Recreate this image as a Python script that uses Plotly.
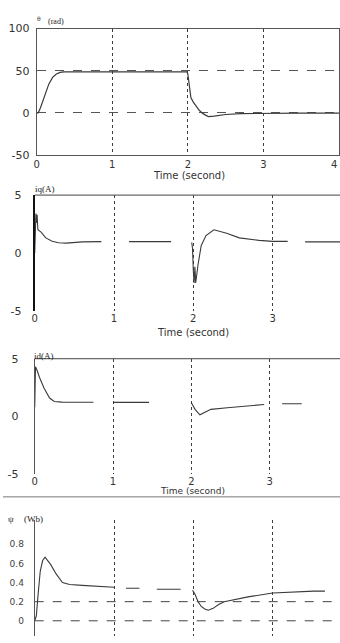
import plotly.graph_objects as go

# ---------------- data ----------------
x_ticks_top = [0, 1, 2, 3]
x_last_label = 4
x_ticks = [0, 1, 2, 3]

theta_t = [0, 0.02, 0.05, 0.08, 0.12, 0.16, 0.21, 0.26, 0.31, 0.36, 0.5, 1.0, 1.5, 1.99,
           2.0, 2.02, 2.04, 2.07, 2.1, 2.15, 2.2, 2.27, 2.35, 2.5, 2.7, 3.0, 3.5, 4.0]
theta = [0, 0, 6, 14, 24, 34, 42, 46, 48, 48.5, 48.5, 48.5, 48.5, 48.5,
         46, 28, 18, 13, 9, 3, -1, -4.5, -4, -2, -1, -0.5, -0.3, -0.3]
theta_yticks = [-50, 0, 50, 100]
theta_ytext = ['-50', '0', '50', '100']

iq_t = [0, 0.005, 0.01, 0.015, 0.02, 0.03, 0.04, 0.06, 0.08, 0.14, 0.22, 0.3, 0.4, 0.6, 0.84, None,
        1.19, 1.72, None,
        1.98, 1.99, 2.0, 2.01, 2.02, 2.03, 2.06, 2.1, 2.16, 2.26, 2.42, 2.58, 2.83, 3.0, 3.19, None,
        3.41, 3.85]
iq = [0, 3.0, 2.2, 3.4, 2.6, 3.3, 2.0, 1.9, 1.8, 1.3, 1.0, 0.88, 0.85, 0.95, 0.98, None,
      0.98, 0.98, None,
      0.9, 0.4, -1.5, -2.6, -1.2, -2.6, -1.0, 0.65, 1.5, 2.0, 1.7, 1.3, 1.08, 1.0, 1.0, None,
      0.95, 0.95]
iq_yticks = [-5, 0, 5]

id_t = [0, 0.01, 0.03, 0.06, 0.12, 0.19, 0.25, 0.35, 0.5, 0.75, None,
        1.0, 1.46, None,
        2.0, 2.05, 2.11, 2.18, 2.25, 2.46, 2.7, 2.93, None,
        3.16, 3.41]
id_a = [0.8, 4.3, 4.0, 3.4, 2.45, 1.6, 1.3, 1.25, 1.24, 1.24, None,
        1.22, 1.22, None,
        1.2, 0.6, 0.15, 0.4, 0.62, 0.76, 0.9, 1.04, None,
        1.1, 1.1]
id_yticks = [-5, 0, 5]

psi_t = [0, 0.02, 0.04, 0.07, 0.1, 0.13, 0.2, 0.27, 0.35, 0.44, 0.6, 0.85, 1.0, None,
         1.15, 1.32, None,
         1.54, 1.84, None,
         1.99, 2.02, 2.06, 2.1, 2.15, 2.19, 2.25, 2.32, 2.39, 2.5, 2.69, 3.0, 3.2, 3.52, 3.66]
psi = [0, 0.05, 0.25, 0.52, 0.63, 0.665, 0.59, 0.49, 0.40, 0.38, 0.37, 0.36, 0.35, None,
       0.34, 0.34, None,
       0.33, 0.33, None,
       0.32, 0.28, 0.2, 0.15, 0.12, 0.11, 0.13, 0.17, 0.2, 0.22, 0.25, 0.29, 0.30, 0.31, 0.31]
psi_yticks = [0, 0.2, 0.4, 0.6, 0.8]
psi_ytext = ['0', '0.2', '0.4', '0.6', '0.8']
psi_ref_levels = [0, 0.2]

# ---------------- layout helpers ----------------
W, H = 340, 643
def px(x):
    return x / W
def py(y):
    return 1 - y / H

LINE = '#3a3a3a'
GRID = '#3c3c3c'
FONT = dict(family='DejaVu Sans', size=11, color='#333333')
XFONT = dict(family='DejaVu Sans', size=10, color='#333333')
TFONT = dict(family='DejaVu Sans', size=10, color='#333333')
TFONT3 = dict(family='DejaVu Sans', size=9, color='#333333')

fig = go.Figure()
fig.add_trace(go.Scatter(x=theta_t, y=theta, mode='lines', xaxis='x', yaxis='y',
                         line=dict(color=LINE, width=1.2), showlegend=False))
fig.add_trace(go.Scatter(x=iq_t, y=iq, mode='lines', xaxis='x2', yaxis='y2',
                         line=dict(color=LINE, width=1.1), showlegend=False))
fig.add_trace(go.Scatter(x=id_t, y=id_a, mode='lines', xaxis='x3', yaxis='y3',
                         line=dict(color=LINE, width=1.1), showlegend=False))
fig.add_trace(go.Scatter(x=psi_t, y=psi, mode='lines', xaxis='x4', yaxis='y4',
                         line=dict(color=LINE, width=1.1), showlegend=False))

xgrid = dict(showgrid=True, gridcolor=GRID, griddash='dot', gridwidth=1,
             zeroline=False, ticks='', tickfont=XFONT)

fig.update_layout(
    width=W, height=H,
    margin=dict(l=0, r=0, t=0, b=0),
    paper_bgcolor='white', plot_bgcolor='white',
    font=FONT,
    xaxis=dict(domain=[px(34), px(339)], range=[0, 4], tickvals=x_ticks_top,
               showline=True, mirror=True, linecolor='#555', linewidth=1,
               anchor='y', ticklabelstandoff=0, **xgrid),
    yaxis=dict(domain=[py(152), py(23)], range=[-50, 100], tickvals=theta_yticks,
               ticktext=theta_ytext, showgrid=True, gridcolor='#555', griddash='dash',
               zeroline=False, showline=True, mirror=True, linecolor='#555',
               ticks='', tickfont=FONT, ticklabelstandoff=4, anchor='x'),
    xaxis2=dict(domain=[px(32), 1], range=[0, 308 / 80], tickvals=x_ticks,
                showline=False, anchor='y2', ticklabelstandoff=0, **xgrid),
    yaxis2=dict(domain=[py(311), py(193)], range=[-5, 5], tickvals=iq_yticks,
                ticktext=['-5', '0', '5'], showgrid=False, zeroline=False,
                showline=True, linecolor='#111', linewidth=2, ticks='',
                tickfont=FONT, ticklabelstandoff=9, anchor='x2'),
    xaxis3=dict(domain=[px(32), 1], range=[0, 308 / 79], tickvals=x_ticks,
                showline=False, anchor='y3', ticklabelstandoff=0, **xgrid),
    yaxis3=dict(domain=[py(478), py(360)], range=[-5, 5], tickvals=id_yticks,
                ticktext=['-5', '0', '5'], showgrid=False, zeroline=False,
                showline=True, linecolor='#555', linewidth=1, ticks='',
                tickfont=FONT, ticklabelstandoff=13, anchor='x3'),
    xaxis4=dict(domain=[px(32), 1], range=[0, 308 / 80], tickvals=x_ticks,
                showline=False, showticklabels=False, anchor='y4', **xgrid),
    yaxis4=dict(domain=[0, py(525)], range=[-0.159, 1.05], tickvals=psi_yticks,
                ticktext=psi_ytext, showgrid=False, zeroline=False,
                showline=True, linecolor='#555', linewidth=1, ticks='',
                tickfont=dict(family='DejaVu Sans', size=9, color='#444'),
                ticklabelstandoff=8, anchor='x4'),
)

shapes = [
    dict(type='line', xref='x2 domain', yref='y2 domain', x0=0, x1=1, y0=1, y1=1,
         line=dict(color='#444', width=1)),
    dict(type='line', xref='x3 domain', yref='y3 domain', x0=0, x1=1, y0=1, y1=1,
         line=dict(color='#444', width=1)),
    dict(type='line', xref='paper', yref='paper', x0=0, x1=1, y0=py(501), y1=py(501),
         line=dict(color='#777', width=1)),
]
for lv in psi_ref_levels:
    shapes.append(dict(type='line', xref='x4 domain', yref='y4', x0=0, x1=1, y0=lv, y1=lv,
                       line=dict(color='#444', width=1, dash='dash')))
fig.update_layout(shapes=shapes)

serif = dict(family='Liberation Serif', size=9, color='#222')
ann = [
    dict(text='Time (second)', x=px(188), y=py(173), font=TFONT),
    dict(text='Time (second)', x=px(192), y=py(333), font=TFONT),
    dict(text='Time (second)', x=px(191), y=py(495), font=TFONT3),
    dict(text='θ', x=px(36), y=py(13), font=dict(family='DejaVu Sans', size=6, color='#333')),
    dict(text='(rad)', x=px(53), y=py(16), font=dict(family='Liberation Serif', size=8, color='#222')),
    dict(text='iq(A)', x=px(42), y=py(187), font=serif),
    dict(text='id(A)', x=px(41), y=py(357), font=serif),
    dict(text='ψ', x=px(8), y=py(524), font=serif),
    dict(text='(Wb)', x=px(31), y=py(524), font=serif),
]
for a in ann:
    a.update(xref='paper', yref='paper', showarrow=False, xanchor='center', yanchor='middle')
# last x tick label of the top panel, sitting at the right edge
ann.append(dict(text=str(x_last_label), x=x_last_label, xref='x', y=py(162), yref='paper',
                showarrow=False, xanchor='right', yanchor='middle', font=XFONT))
fig.update_layout(annotations=ann)

fig.write_html('out.html')
